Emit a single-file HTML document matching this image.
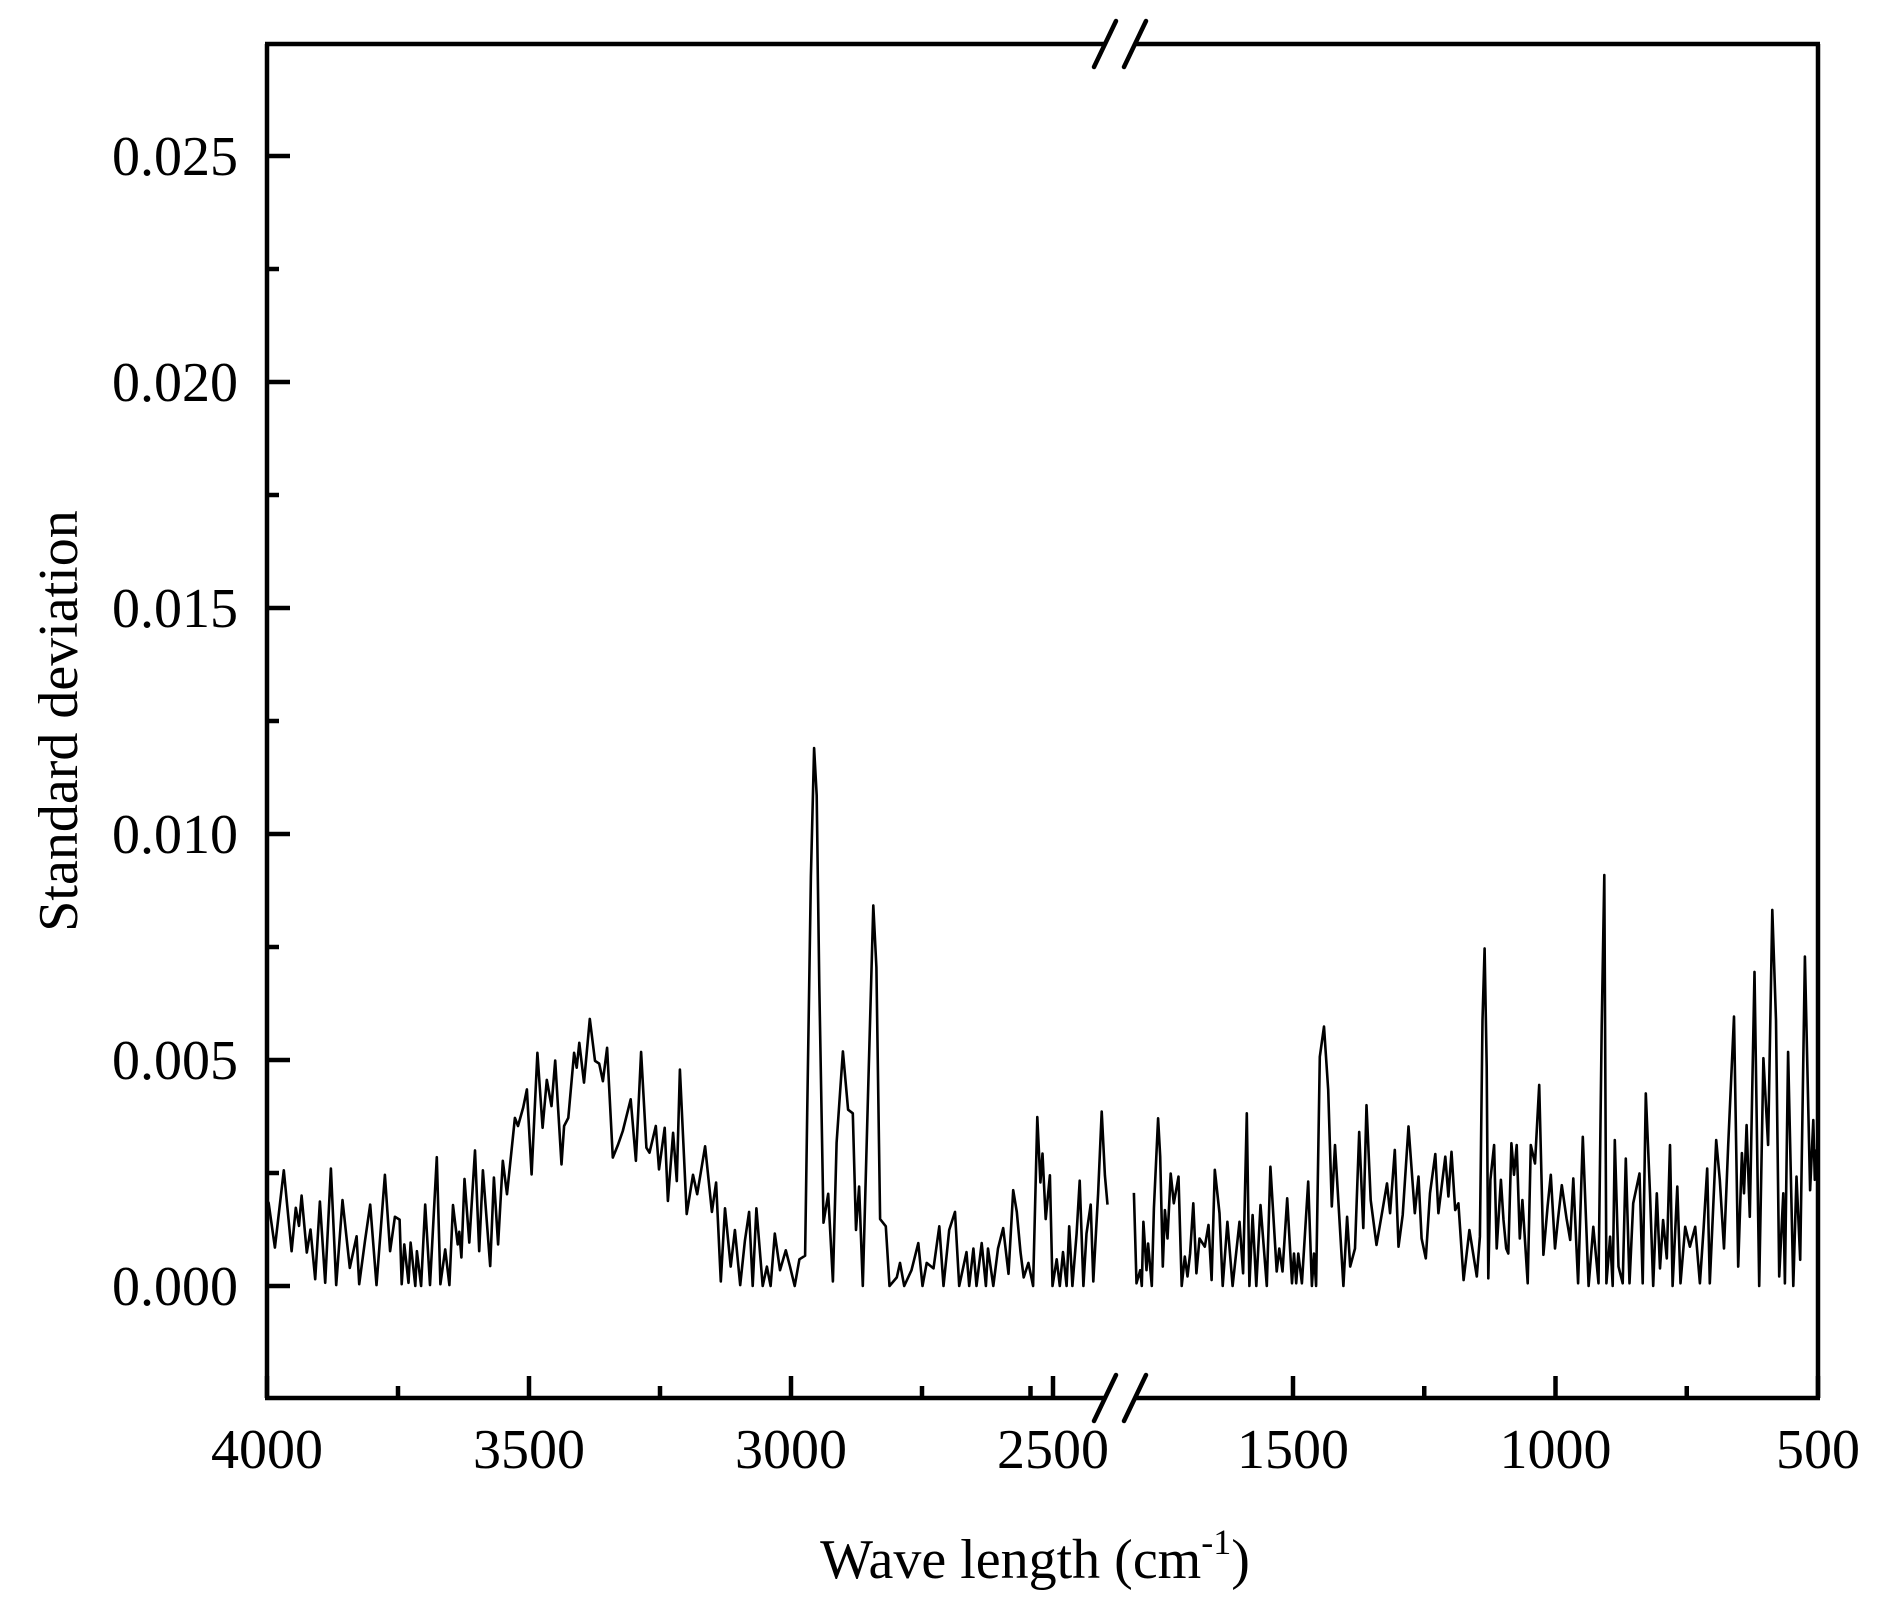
<!DOCTYPE html>
<html><head><meta charset="utf-8">
<style>
html,body{margin:0;padding:0;background:#fff;}
svg{display:block;}
text{font-family:"Liberation Serif","Times New Roman",serif;fill:#000;}
</style></head>
<body>
<svg id="chart" width="1889" height="1609" viewBox="0 0 1889 1609" xmlns="http://www.w3.org/2000/svg">
<g id="axes"></g>
<g id="series"></g>
<g id="labels"></g>
</svg>
<script>
// ---- data ----
const leftWave = [4000,3997,3985,3968,3953,3945,3939,3934,3924,3917,3908,3899,3889,3878,3868,3856,3842,3829,3824,3813,3803,3791,3775,3765,3756,3747,3743,3738,3730,3726,3717,3714,3706,3698,3689,3676,3669,3660,3652,3645,3636,3633,3629,3623,3614,3603,3595,3588,3574,3567,3559,3550,3542,3527,3521,3511,3504,3495,3484,3474,3466,3457,3450,3438,3433,3425,3414,3409,3404,3395,3384,3374,3366,3359,3351,3340,3330,3321,3306,3296,3286,3276,3270,3258,3252,3241,3235,3225,3218,3212,3199,3187,3179,3164,3151,3143,3134,3126,3115,3107,3097,3088,3080,3073,3066,3054,3046,3039,3031,3021,3010,3002,2993,2984,2973,2969,2962,2956,2951,2946,2938,2929,2920,2913,2901,2891,2882,2876,2870,2863,2853,2843,2837,2830,2819,2812,2798,2792,2784,2770,2757,2749,2741,2728,2717,2709,2698,2687,2679,2665,2660,2652,2646,2636,2628,2624,2614,2605,2595,2585,2576,2569,2562,2556,2547,2538,2530,2524,2520,2514,2506,2501,2493,2487,2481,2474,2469,2463,2455,2449,2442,2436,2428,2423,2414,2407,2401,2396];
const leftValue = [1.9,1.84,0.85,2.56,0.77,1.73,1.33,2.0,0.74,1.25,0.15,1.87,0.07,2.6,0.02,1.9,0.4,1.1,0.04,1.0,1.8,0.02,2.46,0.77,1.53,1.47,0.04,0.92,0.07,0.96,0.0,0.77,0.0,1.8,0.02,2.85,0.04,0.81,0.02,1.79,0.92,1.2,0.63,2.37,0.96,3.0,0.77,2.56,0.44,2.4,0.92,2.77,2.03,3.72,3.54,3.95,4.35,2.47,5.16,3.5,4.56,3.98,4.99,2.69,3.54,3.72,5.16,4.83,5.38,4.5,5.91,4.98,4.92,4.53,5.27,2.84,3.13,3.43,4.13,2.77,5.18,3.06,2.95,3.54,2.58,3.5,1.88,3.39,2.32,4.79,1.59,2.46,2.03,3.09,1.64,2.29,0.1,1.72,0.43,1.24,0.02,1.0,1.64,0,1.72,0,0.43,0,1.16,0.35,0.79,0.43,0,0.59,0.67,3.82,9.07,11.9,10.85,6.65,1.4,2.04,0.1,3.17,5.19,3.9,3.82,1.24,2.2,0,4.22,8.42,7.05,1.48,1.32,0,0.19,0.51,0,0.35,0.95,0,0.51,0.39,1.32,0,1.24,1.64,0,0.75,0,0.83,0,0.95,0,0.83,0,0.83,1.28,0.27,2.12,1.64,0.75,0.19,0.51,0,3.74,2.29,2.93,1.48,2.45,0,0.59,0,0.75,0,1.32,0,1.16,2.33,0,1.16,1.8,0.1,2.04,3.86,2.45,1.8];
const rightWave = [1803,1798,1791,1788,1785,1779,1776,1769,1765,1757,1753,1748,1744,1739,1733,1727,1718,1712,1706,1701,1696,1690,1684,1678,1668,1661,1655,1649,1640,1634,1625,1615,1602,1595,1588,1583,1577,1570,1562,1550,1543,1531,1526,1520,1511,1502,1498,1494,1490,1483,1471,1464,1460,1456,1449,1441,1433,1426,1420,1404,1397,1391,1382,1374,1366,1360,1352,1341,1329,1321,1315,1306,1299,1291,1280,1268,1261,1255,1247,1239,1229,1223,1210,1204,1198,1191,1185,1175,1164,1150,1144,1139,1135,1131,1128,1124,1117,1112,1104,1099,1094,1090,1084,1079,1074,1068,1063,1053,1047,1039,1031,1023,1015,1009,1001,995,988,979,972,966,957,948,937,928,918,912,907,903,896,891,887,880,872,866,859,852,840,834,828,820,814,807,801,795,788,782,777,768,762,753,744,734,725,718,711,706,694,687,679,671,660,652,645,641,636,630,621,612,604,595,587,580,574,566,563,557,547,541,534,525,515,509,506,503,500];
const rightValue = [2.06,0.06,0.35,0,1.42,0.35,0.94,0,1.72,3.71,2.86,0.43,1.68,1.05,2.49,1.83,2.42,0,0.65,0.21,0.72,1.83,0.28,1.05,0.87,1.35,0.13,2.57,1.61,0,1.42,0,1.42,0.28,3.82,0,1.57,0,1.79,0,2.64,0.32,0.83,0.32,1.94,0.06,0.72,0.06,0.72,0.06,2.31,0,0.72,0,5.07,5.74,4.34,1.76,3.12,0,1.53,0.43,0.83,3.41,1.28,4.0,1.9,0.91,1.72,2.27,1.61,3.01,0.87,1.57,3.53,1.61,2.42,1.05,0.61,2.05,2.92,1.61,2.86,1.98,2.97,1.68,1.83,0.13,1.24,0.21,1.09,5.88,7.47,4.85,0.17,2.35,3.12,0.83,2.35,1.46,0.83,0.72,3.16,2.46,3.12,1.05,1.9,0.06,3.12,2.71,4.45,0.69,1.76,2.46,0.83,1.5,2.23,1.5,1.02,2.38,0.06,3.3,0,1.31,0.06,5.74,9.09,0.06,1.09,0,3.23,0.43,0.06,2.82,0.06,1.83,2.49,0.06,4.26,2.05,0,2.05,0.39,1.46,0.61,3.12,0,2.2,0.06,1.31,0.87,1.31,0.06,1.24,2.6,0.06,3.23,2.35,0.83,3.12,5.96,0.43,2.94,2.05,3.56,1.53,6.95,0,5.04,3.12,8.32,5.88,0.21,2.05,0.06,5.18,0,2.42,0.58,7.29,2.12,3.67,2.35,3.0,2.0];
const yTickValues = [0.000,0.005,0.010,0.015,0.020,0.025];
const yTickLabels = ["0.000","0.005","0.010","0.015","0.020","0.025"];
const yMinorTicks = [0.0025,0.0075,0.0125,0.0175,0.0225];
const xLeftMajor = [4000,3500,3000,2500];
const xLeftMinor = [3750,3250,2750];
const xRightMajor = [1500,1000,500];
const xRightMinor = [2000,1250,750];

// ---- geometry ----
const L=267,R=1818,T=44,B=1398;
const NS="http://www.w3.org/2000/svg";
function yPix(v){return 1286 - v*45200;}
function xLeft(w){return 267 + (4000-w)*0.524;}
function xRight(w){return 1293 + (1500-w)*0.525;}
function mk(tag,attrs,parent){const e=document.createElementNS(NS,tag);for(const k in attrs)e.setAttribute(k,attrs[k]);parent.appendChild(e);return e;}
const axes=document.getElementById('axes'),series=document.getElementById('series'),labels=document.getElementById('labels');
const bx1=1105,bx2=1135;
const lw=4.5;
let e;
e=mk('line',{x1:L,y1:T,x2:L,y2:B,stroke:'#000','stroke-width':lw},axes);


e=mk('line',{x1:R,y1:T,x2:R,y2:B,stroke:'#000','stroke-width':lw},axes);


[[T,'top'],[B,'bottom']].forEach(([yy,nm])=>{
  e=mk('line',{x1:L-2,y1:yy,x2:bx1,y2:yy,stroke:'#000','stroke-width':lw},axes);
  
  
  e=mk('line',{x1:bx2,y1:yy,x2:R+2,y2:yy,stroke:'#000','stroke-width':lw},axes);
  
  
  [bx1,bx2].forEach(cx=>{
    e=mk('line',{x1:cx-11,y1:yy+23,x2:cx+11,y2:yy-23,stroke:'#000','stroke-width':lw,'stroke-linecap':'round'},axes);
    
    
  });
});
yTickValues.forEach((v,i)=>{
  const y=yPix(v);
  e=mk('line',{x1:L,y1:y,x2:L+23,y2:y,stroke:'#000','stroke-width':lw},axes);
  
  
  e=mk('text',{x:238,y:y+19,'font-size':56,'text-anchor':'end'},labels);
  e.textContent=yTickLabels[i];
  
  
});
yMinorTicks.forEach(v=>{
  const y=yPix(v);
  e=mk('line',{x1:L,y1:y,x2:L+12,y2:y,stroke:'#000','stroke-width':lw},axes);
  
  
});
function xTick(x,len,label){
  e=mk('line',{x1:x,y1:B,x2:x,y2:B-len,stroke:'#000','stroke-width':lw},axes);
  
  
  if(label){
    e=mk('text',{x:x,y:1468,'font-size':56,'text-anchor':'middle'},labels);
    e.textContent=label;
    
    
  }
}
xLeftMajor.forEach(w=>xTick(xLeft(w),22,String(w)));
xLeftMinor.forEach(w=>xTick(xLeft(w),12,null));
xRightMajor.forEach(w=>xTick(xRight(w),22,String(w)));
xRightMinor.forEach(w=>xTick(xRight(w),12,null));
function pathFor(ws,vs,fx){
  return ws.map((w,i)=>(i?'L':'M')+fx(w).toFixed(1)+' '+yPix(vs[i]/1000).toFixed(1)).join(' ');
}
e=mk('path',{d:pathFor(leftWave,leftValue,xLeft),fill:'none',stroke:'#000','stroke-width':2.6,'stroke-linejoin':'round'},series);


e=mk('path',{d:pathFor(rightWave,rightValue,xRight),fill:'none',stroke:'#000','stroke-width':2.6,'stroke-linejoin':'round'},series);


e=mk('text',{x:1035,y:1578,'font-size':56,'text-anchor':'middle'},labels);
e.innerHTML='Wave length (cm<tspan font-size="36" dy="-24">-1</tspan><tspan dy="24">)</tspan>';


e=mk('text',{x:0,y:0,'font-size':56,'text-anchor':'middle',transform:'translate(77,721) rotate(-90)'},labels);
e.textContent='Standard deviation';


</script>
</body></html>
